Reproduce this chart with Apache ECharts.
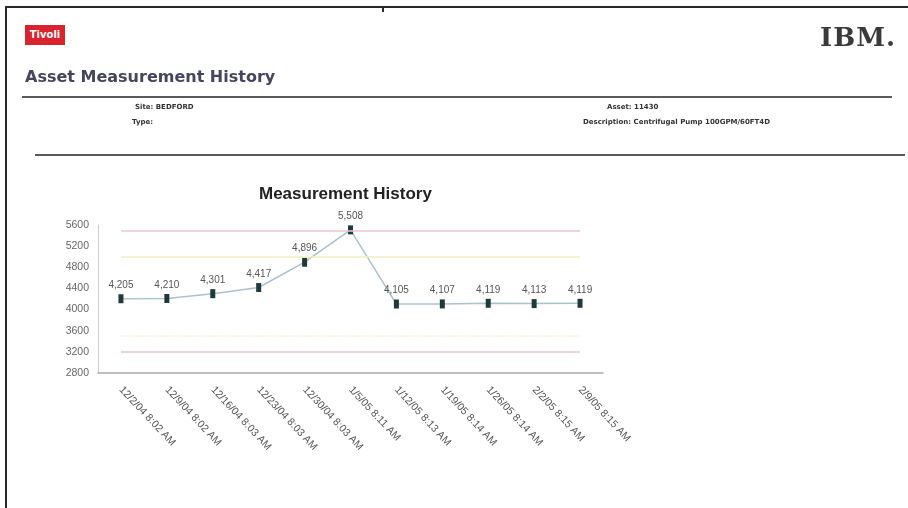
<!DOCTYPE html>
<html>
<head>
<meta charset="utf-8">
<script src="https://cdn.jsdelivr.net/npm/echarts@6/dist/echarts.min.js"></script>
<style>
  html, body { margin: 0; padding: 0; background: #fff; }
  #page { position: relative; width: 908px; height: 508px; overflow: hidden; font-family: "Liberation Sans", Arial, sans-serif; }
  #chart { position: absolute; left: 0; top: 0; width: 908px; height: 508px; }
  .abs { position: absolute; white-space: nowrap; }
</style>
</head>
<body>
<div id="page">
  <div id="chart"></div>
  <!-- report frame -->
  <div class="abs" style="left:5px;top:6px;width:903px;height:2px;background:#2a2a2a;"></div>
  <div class="abs" style="left:5px;top:6px;width:2px;height:502px;background:#2a2a2a;"></div>
  <div class="abs" style="left:382px;top:6px;width:2px;height:6px;background:#2a2a2a;"></div>
  <!-- header -->
  <div class="abs" style="left:25px;top:25px;width:40px;height:20px;background:#d9232e;color:#fff;font:bold 10px 'DejaVu Sans';line-height:20px;text-align:center;">Tivoli</div>
  <div class="abs" style="left:820px;top:22px;font:bold 26px 'DejaVu Serif';color:#3a3a3a;letter-spacing:1px;">IBM.</div>
  <div class="abs" style="left:25px;top:67px;font:bold 16px 'DejaVu Sans';color:#45455f;">Asset Measurement History</div>
  <div class="abs" style="left:22px;top:96px;width:870px;height:2px;background:#5a5a5a;"></div>
  <div class="abs" style="left:135px;top:103px;font:bold 7px 'DejaVu Sans';color:#333;">Site: BEDFORD</div>
  <div class="abs" style="left:132px;top:118px;font:bold 7px 'DejaVu Sans';color:#333;">Type:</div>
  <div class="abs" style="left:607px;top:103px;font:bold 7px 'DejaVu Sans';color:#333;">Asset: 11430</div>
  <div class="abs" style="left:583px;top:118px;font:bold 7px 'DejaVu Sans';color:#333;">Description: Centrifugal Pump 100GPM/60FT4D</div>
  <div class="abs" style="left:35px;top:154px;width:870px;height:2px;background:#5a5a5a;"></div>
</div>
<script>
  // 测量日期
  const categories = [
    '12/2/04 8:02 AM', '12/9/04 8:02 AM', '12/16/04 8:03 AM', '12/23/04 8:03 AM',
    '12/30/04 8:03 AM', '1/5/05 8:11 AM', '1/12/05 8:13 AM', '1/19/05 8:14 AM',
    '1/26/05 8:14 AM', '2/2/05 8:15 AM', '2/9/05 8:15 AM'
  ]
  // 测量值
  const values = [4205, 4210, 4301, 4417, 4896, 5508, 4105, 4107, 4119, 4113, 4119]
  // 上下限
  const upperAction = 5500
  const upperWarning = 5000
  const lowerWarning = 3500
  const lowerAction = 3200
  const yMin = 2800
  const yMax = 5600
  const yStep = 400

  const chartInstance = echarts.init(document.getElementById('chart'))

  const limitLine = (v, color, type) => [
    { coord: [0, v], lineStyle: { color: color, width: 1.5, type: type } },
    { coord: [categories.length - 1, v] }
  ]

  const option = {
    animation: false,
    title: {
      text: 'Measurement History',
      left: 254,
      top: 181,
      textStyle: { fontFamily: 'Liberation Sans', fontSize: 17, fontWeight: 'bold', color: '#222' }
    },
    grid: { left: 98, right: 305, top: 225, bottom: 135 },
    xAxis: {
      type: 'category',
      data: categories,
      boundaryGap: true,
      axisLine: { lineStyle: { color: '#aaa', width: 1.5 } },
      axisTick: { show: false },
      axisLabel: {
        interval: 0,
        rotate: -47,
        margin: 15,
        fontFamily: 'Liberation Sans',
        fontSize: 10.5,
        color: '#555'
      }
    },
    yAxis: {
      type: 'value',
      min: yMin,
      max: yMax,
      interval: yStep,
      axisLine: { show: true, lineStyle: { color: '#ccc' } },
      axisTick: { show: false },
      splitLine: { show: false },
      axisLabel: { fontFamily: 'Liberation Sans', fontSize: 10.5, color: '#666', margin: 9, formatter: v => String(v) }
    },
    series: [{
      type: 'line',
      data: values,
      symbol: 'rect',
      symbolSize: [5, 9],
      itemStyle: { color: '#1e3a3c' },
      lineStyle: { color: '#a9c3cc', width: 1.5 },
      label: {
        show: true,
        position: 'top',
        distance: 4,
        fontFamily: 'Liberation Sans',
        fontSize: 10,
        color: '#555',
        formatter: p => p.value.toLocaleString('en-US')
      },
      markLine: {
        silent: true,
        symbol: 'none',
        label: { show: false },
        data: [
          limitLine(upperAction, '#edc3d3', 'solid'),
          limitLine(upperWarning, '#f2efbf', 'solid'),
          limitLine(lowerWarning, '#f5f1c8', 'dotted'),
          limitLine(lowerAction, '#e8c3d0', 'solid')
        ]
      }
    }]
  }
  chartInstance.setOption(option)
</script>
</body>
</html>
